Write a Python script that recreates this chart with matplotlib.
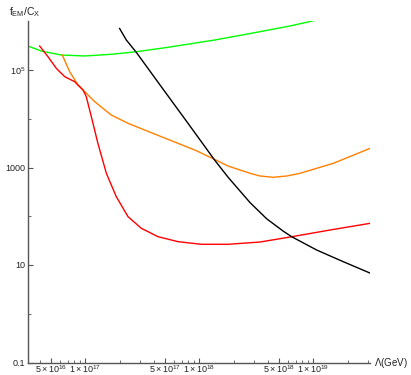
import matplotlib
matplotlib.use("Agg")
import matplotlib.pyplot as plt
from matplotlib.ticker import FixedLocator, NullFormatter

plt.rcParams['font.family'] = ['Liberation Sans', 'DejaVu Sans']
plt.rcParams['mathtext.fontset'] = 'custom'
plt.rcParams['mathtext.rm'] = 'Liberation Sans'
plt.rcParams['mathtext.it'] = 'Liberation Sans:italic'
plt.rcParams['mathtext.bf'] = 'Liberation Sans:bold'

# Curves: cutoff scale Lambda (GeV) vs f_EM / C_X
green_lam = [3.14e16, 4.11e16, 6.15e16, 9.88e16, 1.69e17, 2.8e17, 5.31e17, 1.36e18,
             2.79e18, 6.25e18, 1.07e19]
green_f = [3.1e5, 2.45e5, 2.03e5, 1.94e5, 2.1e5, 2.37e5, 2.92e5, 4.12e5,
           5.6e5, 8.0e5, 1.06e6]

black_lam = [2.0e17, 2.29e17, 2.8e17, 4.64e17, 7.96e17, 1.36e18, 1.79e18, 2.79e18,
             3.9e18, 5.46e18, 6.47e18, 1.07e19, 1.83e19, 3.16e19]
black_f = [7.1e5, 4.12e5, 2.31e5, 4.54e4, 8.07e3, 1.43e3, 630, 190,
           88.7, 49.3, 38, 20.3, 11.7, 6.8]

orange_lam = [6.28e16, 7.3e16, 8.63e16, 9.88e16, 1.21e17, 1.69e17, 2.37e17, 3.32e17,
              5.31e17, 9.12e17, 1.36e18, 1.79e18, 2.79e18, 3.4e18, 4.46e18, 5.87e18,
              7.64e18, 1.5e19, 3.16e19]
orange_f = [2.03e5, 9.2e4, 4.92e4, 3.59e4, 2.24e4, 1.19e4, 8.07e3, 5.87e3,
            3.78e3, 2.29e3, 1.47e3, 1.07e3, 760, 670, 630, 670,
            760, 1220, 2480]

red_lam = [3.98e16, 4.71e16, 5.57e16, 6.6e16, 8.07e16, 9.55e16, 1.02e17, 1.13e17,
           1.29e17, 1.53e17, 1.87e17, 2.37e17, 3.1e17, 4.34e17, 6.5e17, 1.04e18,
           1.79e18, 3.4e18, 6.47e18, 1.4e19, 3.16e19]
red_f = [3.1e5, 1.87e5, 1.08e5, 7.3e4, 5.75e4, 3.89e4, 2.83e4, 1.1e4,
         3.13e3, 760, 252, 98, 56.6, 38.1, 30.1, 26.6,
         26.6, 29.6, 38, 52.2, 71.7]

x_major = [5e16, 1e17, 5e17, 1e18, 5e18, 1e19]
x_major_labels = [r"$5\times10^{16}$", r"$1\times10^{17}$", r"$5\times10^{17}$",
                  r"$1\times10^{18}$", r"$5\times10^{18}$", r"$1\times10^{19}$"]
y_major = [0.1, 10, 1000, 1e5]
y_major_labels = ["0.1", "10", "1000", r"$10^5$"]

fig = plt.figure(figsize=(4.11, 3.75), dpi=100)
ax = fig.add_axes([28.3 / 411, 1 - 362.5 / 375, (370.3 - 28.3) / 411, (362.5 - 21.25) / 375])

lw = 1.0
ax.plot(green_lam, green_f, color=(0.0, 1.0, 0.0), lw=lw)
ax.plot(orange_lam, orange_f, color=(1.0, 0.5, 0.0), lw=lw)
ax.plot(red_lam, red_f, color=(1.0, 0.0, 0.0), lw=lw)
ax.plot(black_lam, black_f, color='black', lw=lw)

ax.set_xscale('log')
ax.set_yscale('log')
xmin, xmax = 10.0 ** 16.5, 10.0 ** 19.5
ax.set_xlim(xmin, xmax)
ax.set_ylim(0.1, 1e6)

for s in ['top', 'right']:
    ax.spines[s].set_visible(False)
for s in ['left', 'bottom']:
    ax.spines[s].set_color('#555555')
    ax.spines[s].set_linewidth(1.0)

x_minor = []
for e in (16, 17, 18, 19):
    for m in (2, 3, 4, 6, 7, 8, 9):
        v = float(m) * 10.0 ** e
        if xmin <= v <= xmax:
            x_minor.append(v)
ax.xaxis.set_major_locator(FixedLocator(x_major))
ax.xaxis.set_minor_locator(FixedLocator(x_minor))
ax.set_xticklabels(x_major_labels)
ax.xaxis.set_minor_formatter(NullFormatter())

ax.yaxis.set_major_locator(FixedLocator(y_major))
ax.yaxis.set_minor_locator(FixedLocator([1.0, 100.0, 1e4]))
ax.set_yticklabels(y_major_labels)
ax.yaxis.set_minor_formatter(NullFormatter())

ax.tick_params(which='major', direction='in', length=3.5, width=0.8, color='#555555',
               labelsize=6.5, pad=2, labelcolor='#222222')
ax.tick_params(which='minor', direction='in', length=2, width=0.6, color='#555555')
ax.tick_params(axis='x', which='major', pad=0.3)

ax.text(1.012, 0.0, r"$\Lambda$(GeV)", transform=ax.transAxes, fontsize=7,
        ha='left', va='center', color='#222222')
fig.text(9 / 411, 1 - 15 / 375, r"f$_{\mathrm{EM}}$/C$_{\mathrm{X}}$",
         fontsize=7.5, ha='left', va='baseline', color='#222222')

fig.savefig("out.png", dpi=100)
